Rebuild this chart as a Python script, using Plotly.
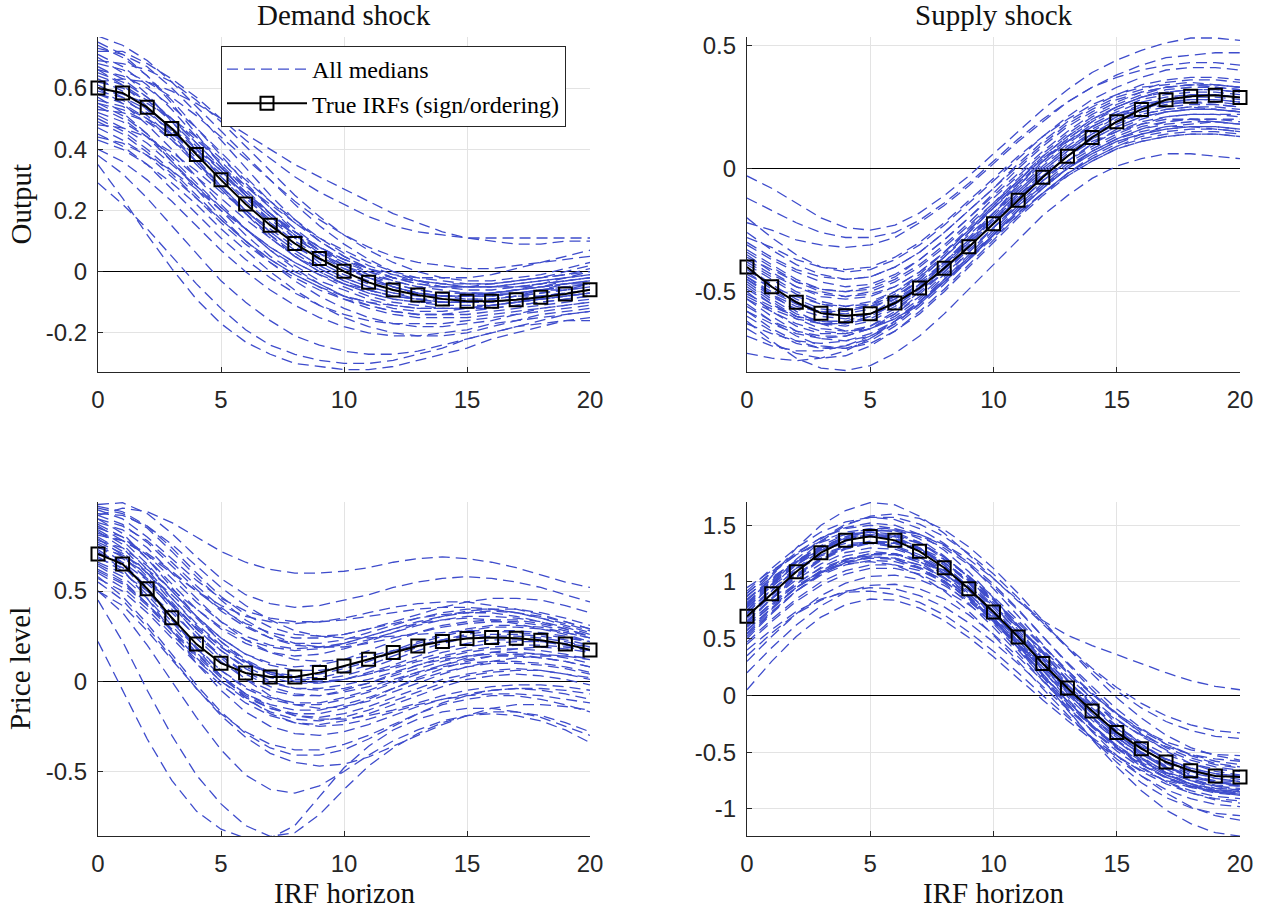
import plotly.graph_objects as go

horizons = [0, 1, 2, 3, 4, 5, 6, 7, 8, 9, 10, 11, 12, 13, 14, 15, 16, 17, 18, 19, 20]

col_titles = ["Demand shock", "Supply shock"]
row_titles = ["Output", "Price level"]
x_title = "IRF horizon"

x_tickvals = [0, 5, 10, 15, 20]
x_ticktext = ["0", "5", "10", "15", "20"]

y_tick_output_demand = [-0.2, 0, 0.2, 0.4, 0.6]
y_text_output_demand = ["-0.2", "0", "0.2", "0.4", "0.6"]
y_tick_output_supply = [-0.5, 0, 0.5]
y_text_output_supply = ["-0.5", "0", "0.5"]
y_tick_price_demand = [-0.5, 0, 0.5]
y_text_price_demand = ["-0.5", "0", "0.5"]
y_tick_price_supply = [-1, -0.5, 0, 0.5, 1, 1.5]
y_text_price_supply = ["-1", "-0.5", "0", "0.5", "1", "1.5"]

y_range_output_demand = [-0.328, 0.767]
y_range_output_supply = [-0.826, 0.534]
y_range_price_demand = [-0.858, 0.994]
y_range_price_supply = [-1.239, 1.705]

true_output_demand = [0.60, 0.584, 0.537, 0.468, 0.383, 0.30, 0.221, 0.152, 0.092, 0.043, 0.001,
                      -0.035, -0.060, -0.076, -0.089, -0.097, -0.097, -0.092, -0.084, -0.073, -0.059]
true_output_supply = [-0.40, -0.48, -0.543, -0.587, -0.598, -0.59, -0.546, -0.485, -0.405, -0.318, -0.224,
                      -0.129, -0.035, 0.05, 0.126, 0.19, 0.24, 0.279, 0.293, 0.298, 0.288]
true_price_demand = [0.706, 0.65, 0.513, 0.352, 0.206, 0.10, 0.046, 0.024, 0.024, 0.048, 0.085,
                     0.122, 0.159, 0.196, 0.22, 0.237, 0.243, 0.239, 0.228, 0.206, 0.174]
true_price_supply = [0.698, 0.897, 1.091, 1.258, 1.367, 1.402, 1.367, 1.27, 1.126, 0.941, 0.736,
                     0.516, 0.282, 0.065, -0.138, -0.326, -0.469, -0.587, -0.663, -0.710, -0.718]

medians_output_demand = [
    [0.77, 0.74, 0.69, 0.62, 0.54, 0.46, 0.38, 0.30, 0.22, 0.15, 0.09, 0.04, 0.00, -0.03, -0.05, -0.06, -0.06, -0.05, -0.04, -0.03, -0.02],
    [0.72, 0.72, 0.68, 0.63, 0.57, 0.50, 0.43, 0.37, 0.31, 0.26, 0.22, 0.18, 0.15, 0.13, 0.12, 0.11, 0.11, 0.11, 0.11, 0.11, 0.11],
    [0.62, 0.63, 0.62, 0.59, 0.55, 0.50, 0.45, 0.40, 0.35, 0.31, 0.27, 0.23, 0.19, 0.16, 0.13, 0.11, 0.10, 0.09, 0.09, 0.10, 0.10],
    [0.68, 0.66, 0.62, 0.57, 0.51, 0.44, 0.37, 0.30, 0.23, 0.17, 0.12, 0.08, 0.05, 0.03, 0.02, 0.01, 0.01, 0.02, 0.03, 0.04, 0.05],
    [0.65, 0.62, 0.57, 0.50, 0.42, 0.34, 0.26, 0.19, 0.12, 0.07, 0.03, 0.00, -0.02, -0.03, -0.04, -0.04, -0.04, -0.03, -0.02, -0.01, 0.00],
    [0.58, 0.55, 0.50, 0.43, 0.35, 0.27, 0.19, 0.12, 0.06, 0.01, -0.03, -0.06, -0.08, -0.09, -0.10, -0.10, -0.09, -0.08, -0.07, -0.06, -0.05],
    [0.55, 0.51, 0.45, 0.37, 0.29, 0.21, 0.14, 0.07, 0.02, -0.03, -0.06, -0.09, -0.11, -0.12, -0.12, -0.12, -0.11, -0.10, -0.09, -0.08, -0.07],
    [0.50, 0.46, 0.40, 0.33, 0.25, 0.17, 0.10, 0.04, -0.01, -0.05, -0.09, -0.11, -0.13, -0.14, -0.14, -0.14, -0.13, -0.12, -0.11, -0.10, -0.09],
    [0.70, 0.65, 0.58, 0.49, 0.40, 0.31, 0.23, 0.16, 0.10, 0.05, 0.01, -0.02, -0.05, -0.07, -0.08, -0.09, -0.09, -0.08, -0.07, -0.06, -0.04],
    [0.48, 0.47, 0.44, 0.39, 0.33, 0.26, 0.20, 0.14, 0.08, 0.04, 0.00, -0.03, -0.05, -0.07, -0.08, -0.08, -0.08, -0.07, -0.06, -0.05, -0.04],
    [0.45, 0.41, 0.35, 0.27, 0.19, 0.11, 0.04, -0.02, -0.07, -0.11, -0.14, -0.16, -0.17, -0.17, -0.17, -0.16, -0.15, -0.14, -0.13, -0.12, -0.11],
    [0.35, 0.24, 0.12, 0.01, -0.09, -0.17, -0.23, -0.27, -0.30, -0.31, -0.32, -0.32, -0.31, -0.29, -0.27, -0.25, -0.22, -0.20, -0.18, -0.16, -0.15],
    [0.29, 0.22, 0.14, 0.05, -0.04, -0.12, -0.19, -0.24, -0.27, -0.29, -0.30, -0.30, -0.29, -0.27, -0.25, -0.22, -0.20, -0.18, -0.16, -0.14, -0.13],
    [0.40, 0.36, 0.30, 0.23, 0.15, 0.07, 0.00, -0.06, -0.11, -0.15, -0.18, -0.20, -0.21, -0.21, -0.20, -0.19, -0.17, -0.16, -0.14, -0.13, -0.12],
    [0.62, 0.60, 0.56, 0.50, 0.43, 0.36, 0.28, 0.21, 0.14, 0.08, 0.03, -0.01, -0.04, -0.06, -0.07, -0.07, -0.07, -0.06, -0.04, -0.02, 0.00],
    [0.60, 0.55, 0.48, 0.40, 0.31, 0.22, 0.14, 0.07, 0.01, -0.04, -0.08, -0.11, -0.13, -0.14, -0.14, -0.13, -0.12, -0.11, -0.10, -0.09, -0.08],
    [0.53, 0.52, 0.49, 0.45, 0.40, 0.34, 0.28, 0.22, 0.16, 0.11, 0.07, 0.03, 0.00, -0.02, -0.03, -0.04, -0.04, -0.03, -0.02, 0.00, 0.02],
    [0.66, 0.64, 0.60, 0.54, 0.47, 0.39, 0.31, 0.23, 0.16, 0.10, 0.05, 0.01, -0.02, -0.04, -0.05, -0.05, -0.04, -0.03, -0.02, -0.01, 0.01],
    [0.57, 0.52, 0.45, 0.36, 0.27, 0.18, 0.10, 0.03, -0.03, -0.08, -0.12, -0.15, -0.17, -0.18, -0.18, -0.17, -0.16, -0.14, -0.12, -0.11, -0.10],
    [0.74, 0.70, 0.64, 0.56, 0.47, 0.38, 0.29, 0.21, 0.13, 0.07, 0.02, -0.02, -0.05, -0.07, -0.08, -0.08, -0.08, -0.07, -0.06, -0.04, -0.03],
    [0.52, 0.49, 0.44, 0.38, 0.31, 0.24, 0.17, 0.11, 0.05, 0.01, -0.03, -0.06, -0.08, -0.09, -0.10, -0.10, -0.10, -0.09, -0.08, -0.07, -0.06],
    [0.43, 0.40, 0.35, 0.29, 0.22, 0.14, 0.07, 0.00, -0.06, -0.11, -0.15, -0.18, -0.20, -0.21, -0.21, -0.20, -0.18, -0.16, -0.15, -0.14, -0.13],
    [0.64, 0.61, 0.56, 0.49, 0.41, 0.33, 0.25, 0.18, 0.12, 0.07, 0.04, 0.01, -0.01, -0.02, -0.02, -0.02, -0.01, 0.01, 0.03, 0.05, 0.07],
    [0.38, 0.32, 0.24, 0.15, 0.06, -0.03, -0.10, -0.16, -0.21, -0.24, -0.26, -0.27, -0.27, -0.26, -0.24, -0.22, -0.20, -0.18, -0.17, -0.16, -0.16],
    [0.56, 0.54, 0.50, 0.45, 0.39, 0.32, 0.25, 0.19, 0.13, 0.08, 0.04, 0.01, -0.02, -0.03, -0.04, -0.05, -0.05, -0.05, -0.05, -0.04, -0.04],
    [0.69, 0.68, 0.66, 0.62, 0.56, 0.49, 0.41, 0.33, 0.25, 0.18, 0.12, 0.07, 0.03, 0.00, -0.02, -0.03, -0.03, -0.02, -0.01, 0.01, 0.03],
    [0.47, 0.43, 0.38, 0.31, 0.24, 0.17, 0.10, 0.04, -0.01, -0.05, -0.08, -0.10, -0.11, -0.12, -0.12, -0.12, -0.11, -0.10, -0.09, -0.08, -0.07],
    [0.61, 0.57, 0.51, 0.44, 0.36, 0.28, 0.20, 0.13, 0.07, 0.02, -0.02, -0.05, -0.07, -0.09, -0.10, -0.10, -0.10, -0.09, -0.09, -0.08, -0.07],
    [0.71, 0.67, 0.61, 0.53, 0.44, 0.35, 0.27, 0.19, 0.12, 0.06, 0.02, -0.02, -0.04, -0.06, -0.07, -0.07, -0.07, -0.06, -0.05, -0.04, -0.03],
    [0.63, 0.59, 0.53, 0.45, 0.36, 0.27, 0.19, 0.11, 0.05, 0.00, -0.04, -0.07, -0.09, -0.10, -0.11, -0.11, -0.11, -0.10, -0.09, -0.08, -0.07],
    [0.59, 0.57, 0.53, 0.47, 0.40, 0.33, 0.25, 0.18, 0.11, 0.06, 0.01, -0.02, -0.05, -0.07, -0.08, -0.08, -0.08, -0.07, -0.06, -0.05, -0.04],
    [0.54, 0.50, 0.44, 0.36, 0.28, 0.20, 0.12, 0.05, 0.00, -0.04, -0.08, -0.10, -0.12, -0.13, -0.13, -0.12, -0.11, -0.10, -0.08, -0.07, -0.06],
    [0.67, 0.63, 0.57, 0.50, 0.42, 0.34, 0.26, 0.19, 0.13, 0.08, 0.04, 0.00, -0.03, -0.05, -0.06, -0.07, -0.07, -0.07, -0.06, -0.06, -0.05],
    [0.49, 0.45, 0.39, 0.32, 0.24, 0.16, 0.09, 0.03, -0.02, -0.06, -0.09, -0.12, -0.14, -0.15, -0.15, -0.15, -0.14, -0.13, -0.12, -0.11, -0.10],
    [0.73, 0.71, 0.67, 0.60, 0.52, 0.43, 0.34, 0.25, 0.17, 0.10, 0.05, 0.01, -0.02, -0.04, -0.05, -0.05, -0.05, -0.04, -0.03, -0.02, -0.01],
    [0.58, 0.56, 0.52, 0.46, 0.39, 0.31, 0.24, 0.17, 0.11, 0.06, 0.02, -0.01, -0.03, -0.05, -0.05, -0.05, -0.05, -0.04, -0.03, -0.02, -0.01],
    [0.51, 0.47, 0.42, 0.35, 0.28, 0.21, 0.14, 0.08, 0.03, -0.01, -0.04, -0.06, -0.08, -0.09, -0.09, -0.09, -0.09, -0.08, -0.08, -0.07, -0.06],
    [0.66, 0.61, 0.54, 0.46, 0.37, 0.28, 0.19, 0.12, 0.05, 0.00, -0.04, -0.07, -0.09, -0.10, -0.10, -0.10, -0.09, -0.08, -0.06, -0.05, -0.04],
    [0.44, 0.42, 0.38, 0.33, 0.27, 0.20, 0.14, 0.08, 0.03, -0.01, -0.05, -0.08, -0.10, -0.11, -0.12, -0.12, -0.12, -0.11, -0.10, -0.09, -0.08],
    [0.60, 0.58, 0.55, 0.50, 0.44, 0.37, 0.30, 0.23, 0.17, 0.11, 0.06, 0.02, -0.01, -0.03, -0.04, -0.05, -0.05, -0.05, -0.04, -0.03, -0.02],
    [0.75, 0.71, 0.64, 0.55, 0.45, 0.35, 0.25, 0.16, 0.09, 0.03, -0.01, -0.04, -0.06, -0.07, -0.08, -0.08, -0.07, -0.06, -0.05, -0.04, -0.03],
    [0.55, 0.53, 0.49, 0.43, 0.36, 0.28, 0.20, 0.13, 0.07, 0.02, -0.02, -0.05, -0.07, -0.08, -0.08, -0.08, -0.07, -0.06, -0.05, -0.03, -0.02],
]

medians_output_supply = [
    [-0.03, -0.08, -0.14, -0.20, -0.24, -0.25, -0.23, -0.18, -0.11, -0.03, 0.06, 0.15, 0.24, 0.32, 0.39, 0.44, 0.48, 0.51, 0.53, 0.53, 0.52],
    [-0.22, -0.25, -0.29, -0.31, -0.32, -0.31, -0.28, -0.22, -0.15, -0.07, 0.02, 0.11, 0.19, 0.27, 0.33, 0.38, 0.42, 0.45, 0.46, 0.47, 0.47],
    [-0.30, -0.36, -0.41, -0.44, -0.45, -0.44, -0.40, -0.34, -0.26, -0.17, -0.08, 0.02, 0.11, 0.19, 0.25, 0.30, 0.34, 0.36, 0.37, 0.37, 0.36],
    [-0.35, -0.42, -0.48, -0.52, -0.53, -0.52, -0.48, -0.42, -0.34, -0.25, -0.16, -0.07, 0.02, 0.10, 0.17, 0.22, 0.26, 0.28, 0.29, 0.29, 0.28],
    [-0.45, -0.52, -0.57, -0.60, -0.61, -0.59, -0.54, -0.47, -0.38, -0.29, -0.19, -0.09, 0.00, 0.08, 0.14, 0.19, 0.22, 0.24, 0.25, 0.24, 0.23],
    [-0.50, -0.58, -0.64, -0.67, -0.67, -0.64, -0.58, -0.50, -0.41, -0.31, -0.21, -0.11, -0.03, 0.05, 0.11, 0.15, 0.18, 0.20, 0.20, 0.19, 0.18],
    [-0.55, -0.62, -0.68, -0.72, -0.73, -0.71, -0.66, -0.59, -0.50, -0.40, -0.30, -0.20, -0.11, -0.03, 0.03, 0.08, 0.11, 0.13, 0.14, 0.14, 0.13],
    [-0.62, -0.70, -0.77, -0.81, -0.82, -0.80, -0.75, -0.68, -0.59, -0.49, -0.39, -0.29, -0.19, -0.11, -0.04, 0.01, 0.04, 0.06, 0.06, 0.05, 0.04],
    [-0.75, -0.77, -0.78, -0.77, -0.74, -0.69, -0.62, -0.54, -0.45, -0.36, -0.27, -0.18, -0.10, -0.03, 0.03, 0.08, 0.11, 0.13, 0.14, 0.14, 0.13],
    [-0.38, -0.44, -0.50, -0.54, -0.56, -0.55, -0.52, -0.46, -0.38, -0.29, -0.20, -0.10, -0.01, 0.07, 0.14, 0.20, 0.24, 0.27, 0.28, 0.28, 0.27],
    [-0.28, -0.32, -0.37, -0.40, -0.41, -0.40, -0.36, -0.30, -0.22, -0.13, -0.04, 0.05, 0.13, 0.20, 0.26, 0.30, 0.33, 0.34, 0.35, 0.34, 0.33],
    [-0.42, -0.49, -0.55, -0.58, -0.59, -0.57, -0.52, -0.45, -0.36, -0.26, -0.16, -0.06, 0.03, 0.11, 0.17, 0.22, 0.25, 0.27, 0.27, 0.26, 0.25],
    [-0.47, -0.54, -0.60, -0.63, -0.64, -0.62, -0.57, -0.50, -0.42, -0.33, -0.24, -0.15, -0.07, 0.00, 0.06, 0.11, 0.14, 0.16, 0.17, 0.17, 0.16],
    [-0.33, -0.39, -0.45, -0.49, -0.50, -0.49, -0.45, -0.39, -0.31, -0.22, -0.12, -0.03, 0.06, 0.14, 0.21, 0.26, 0.30, 0.33, 0.34, 0.34, 0.33],
    [-0.58, -0.65, -0.70, -0.73, -0.72, -0.69, -0.63, -0.55, -0.46, -0.36, -0.26, -0.16, -0.07, 0.01, 0.07, 0.12, 0.15, 0.17, 0.17, 0.16, 0.15],
    [-0.20, -0.28, -0.35, -0.40, -0.42, -0.41, -0.37, -0.31, -0.23, -0.14, -0.05, 0.04, 0.13, 0.21, 0.28, 0.33, 0.37, 0.40, 0.41, 0.41, 0.40],
    [-0.52, -0.57, -0.61, -0.63, -0.63, -0.60, -0.55, -0.48, -0.39, -0.30, -0.21, -0.12, -0.04, 0.03, 0.09, 0.14, 0.18, 0.21, 0.22, 0.22, 0.22],
    [-0.44, -0.51, -0.58, -0.63, -0.66, -0.65, -0.61, -0.55, -0.46, -0.37, -0.27, -0.17, -0.08, 0.00, 0.07, 0.12, 0.16, 0.19, 0.20, 0.20, 0.20],
    [-0.36, -0.41, -0.46, -0.49, -0.50, -0.48, -0.44, -0.37, -0.29, -0.20, -0.11, -0.02, 0.07, 0.15, 0.22, 0.27, 0.31, 0.33, 0.34, 0.34, 0.33],
    [-0.65, -0.71, -0.75, -0.77, -0.76, -0.72, -0.66, -0.58, -0.49, -0.39, -0.29, -0.19, -0.10, -0.02, 0.04, 0.09, 0.12, 0.14, 0.15, 0.15, 0.14],
    [-0.40, -0.47, -0.53, -0.57, -0.58, -0.56, -0.51, -0.44, -0.35, -0.25, -0.15, -0.05, 0.05, 0.13, 0.20, 0.25, 0.29, 0.31, 0.32, 0.32, 0.31],
    [-0.48, -0.55, -0.61, -0.65, -0.66, -0.64, -0.59, -0.52, -0.43, -0.34, -0.24, -0.14, -0.05, 0.03, 0.10, 0.16, 0.20, 0.23, 0.24, 0.24, 0.23],
    [-0.12, -0.17, -0.22, -0.26, -0.28, -0.28, -0.26, -0.21, -0.14, -0.06, 0.03, 0.12, 0.20, 0.27, 0.33, 0.37, 0.40, 0.42, 0.43, 0.43, 0.42],
    [-0.53, -0.60, -0.66, -0.69, -0.70, -0.68, -0.63, -0.55, -0.45, -0.35, -0.25, -0.15, -0.06, 0.02, 0.08, 0.13, 0.17, 0.19, 0.20, 0.20, 0.19],
    [-0.43, -0.48, -0.52, -0.55, -0.56, -0.54, -0.50, -0.44, -0.36, -0.27, -0.18, -0.09, 0.00, 0.08, 0.15, 0.21, 0.25, 0.28, 0.30, 0.30, 0.29],
    [-0.68, -0.72, -0.74, -0.74, -0.72, -0.68, -0.62, -0.54, -0.45, -0.36, -0.27, -0.18, -0.10, -0.02, 0.04, 0.09, 0.13, 0.15, 0.16, 0.16, 0.15],
    [-0.26, -0.33, -0.39, -0.43, -0.45, -0.44, -0.40, -0.34, -0.26, -0.17, -0.08, 0.01, 0.10, 0.18, 0.24, 0.29, 0.32, 0.35, 0.36, 0.36, 0.35],
    [-0.58, -0.63, -0.67, -0.69, -0.68, -0.65, -0.59, -0.51, -0.42, -0.32, -0.22, -0.12, -0.03, 0.05, 0.12, 0.17, 0.21, 0.23, 0.24, 0.24, 0.23],
    [-0.46, -0.53, -0.59, -0.62, -0.63, -0.61, -0.56, -0.49, -0.40, -0.30, -0.20, -0.10, -0.01, 0.07, 0.14, 0.19, 0.23, 0.25, 0.26, 0.26, 0.25],
    [-0.39, -0.45, -0.51, -0.55, -0.57, -0.56, -0.53, -0.47, -0.39, -0.30, -0.21, -0.11, -0.02, 0.06, 0.13, 0.18, 0.22, 0.24, 0.25, 0.25, 0.24],
    [-0.51, -0.56, -0.60, -0.62, -0.62, -0.59, -0.53, -0.45, -0.36, -0.26, -0.16, -0.06, 0.03, 0.11, 0.18, 0.23, 0.27, 0.29, 0.30, 0.30, 0.29],
    [-0.34, -0.40, -0.46, -0.50, -0.52, -0.51, -0.48, -0.42, -0.34, -0.25, -0.15, -0.05, 0.04, 0.12, 0.19, 0.24, 0.28, 0.30, 0.31, 0.31, 0.30],
    [-0.56, -0.62, -0.66, -0.68, -0.68, -0.65, -0.60, -0.53, -0.44, -0.34, -0.24, -0.14, -0.05, 0.03, 0.10, 0.15, 0.19, 0.21, 0.22, 0.22, 0.21],
    [-0.44, -0.50, -0.55, -0.59, -0.60, -0.59, -0.55, -0.49, -0.41, -0.32, -0.22, -0.12, -0.03, 0.05, 0.12, 0.17, 0.21, 0.23, 0.24, 0.24, 0.23],
    [-0.41, -0.48, -0.54, -0.58, -0.60, -0.59, -0.55, -0.48, -0.39, -0.29, -0.18, -0.07, 0.03, 0.12, 0.19, 0.25, 0.29, 0.32, 0.33, 0.33, 0.32],
    [-0.49, -0.55, -0.60, -0.63, -0.63, -0.60, -0.55, -0.47, -0.38, -0.28, -0.18, -0.08, 0.01, 0.09, 0.16, 0.21, 0.24, 0.26, 0.27, 0.27, 0.26],
    [-0.31, -0.37, -0.42, -0.46, -0.48, -0.47, -0.43, -0.37, -0.29, -0.20, -0.10, 0.00, 0.09, 0.17, 0.23, 0.28, 0.31, 0.33, 0.34, 0.33, 0.32],
    [-0.60, -0.66, -0.71, -0.73, -0.73, -0.70, -0.64, -0.56, -0.47, -0.37, -0.27, -0.17, -0.08, 0.00, 0.06, 0.11, 0.14, 0.16, 0.17, 0.17, 0.16],
    [-0.37, -0.43, -0.48, -0.51, -0.52, -0.50, -0.46, -0.40, -0.32, -0.23, -0.14, -0.05, 0.04, 0.11, 0.17, 0.22, 0.25, 0.27, 0.28, 0.28, 0.27],
    [-0.53, -0.58, -0.63, -0.66, -0.67, -0.65, -0.61, -0.54, -0.46, -0.37, -0.28, -0.19, -0.10, -0.02, 0.05, 0.10, 0.14, 0.17, 0.18, 0.19, 0.18],
    [-0.45, -0.51, -0.56, -0.58, -0.58, -0.55, -0.50, -0.43, -0.34, -0.24, -0.14, -0.04, 0.05, 0.13, 0.20, 0.25, 0.29, 0.31, 0.32, 0.32, 0.31],
    [-0.63, -0.67, -0.70, -0.71, -0.70, -0.67, -0.62, -0.55, -0.46, -0.37, -0.27, -0.17, -0.08, 0.00, 0.07, 0.12, 0.16, 0.18, 0.19, 0.19, 0.18],
]

medians_price_demand = [
    [0.92, 0.96, 0.94, 0.88, 0.80, 0.72, 0.66, 0.62, 0.60, 0.60, 0.61, 0.63, 0.66, 0.68, 0.69, 0.68, 0.66, 0.63, 0.59, 0.55, 0.52],
    [0.98, 0.99, 0.93, 0.82, 0.69, 0.57, 0.48, 0.43, 0.41, 0.42, 0.45, 0.48, 0.52, 0.55, 0.57, 0.58, 0.57, 0.55, 0.52, 0.48, 0.44],
    [0.22, -0.05, -0.32, -0.55, -0.72, -0.82, -0.87, -0.87, -0.80, -0.64, -0.48, -0.36, -0.27, -0.21, -0.17, -0.15, -0.15, -0.17, -0.20, -0.25, -0.30],
    [0.45, 0.22, -0.05, -0.30, -0.52, -0.68, -0.80, -0.86, -0.84, -0.74, -0.60, -0.47, -0.37, -0.29, -0.23, -0.19, -0.17, -0.17, -0.19, -0.23, -0.28],
    [0.80, 0.72, 0.58, 0.42, 0.27, 0.14, 0.04, -0.03, -0.07, -0.08, -0.06, -0.03, 0.01, 0.05, 0.08, 0.10, 0.11, 0.11, 0.10, 0.08, 0.05],
    [0.88, 0.84, 0.74, 0.60, 0.46, 0.33, 0.23, 0.16, 0.12, 0.11, 0.12, 0.14, 0.17, 0.20, 0.23, 0.25, 0.26, 0.26, 0.25, 0.23, 0.20],
    [0.65, 0.58, 0.46, 0.31, 0.16, 0.03, -0.07, -0.13, -0.16, -0.16, -0.13, -0.09, -0.04, 0.01, 0.05, 0.08, 0.10, 0.10, 0.09, 0.07, 0.04],
    [0.75, 0.66, 0.52, 0.35, 0.18, 0.03, -0.09, -0.18, -0.23, -0.25, -0.24, -0.21, -0.17, -0.13, -0.10, -0.08, -0.07, -0.07, -0.08, -0.10, -0.12],
    [0.95, 0.90, 0.80, 0.68, 0.56, 0.46, 0.39, 0.35, 0.33, 0.33, 0.34, 0.36, 0.38, 0.40, 0.41, 0.41, 0.40, 0.38, 0.35, 0.32, 0.28],
    [0.70, 0.68, 0.60, 0.48, 0.35, 0.22, 0.12, 0.05, 0.01, 0.00, 0.01, 0.04, 0.07, 0.11, 0.14, 0.17, 0.19, 0.20, 0.20, 0.19, 0.17],
    [0.58, 0.47, 0.32, 0.15, -0.02, -0.17, -0.29, -0.37, -0.41, -0.41, -0.38, -0.32, -0.25, -0.18, -0.12, -0.08, -0.05, -0.04, -0.04, -0.05, -0.07],
    [0.85, 0.80, 0.70, 0.57, 0.44, 0.33, 0.25, 0.20, 0.18, 0.19, 0.21, 0.25, 0.29, 0.33, 0.36, 0.38, 0.39, 0.38, 0.36, 0.33, 0.29],
    [0.62, 0.55, 0.43, 0.29, 0.15, 0.03, -0.07, -0.14, -0.19, -0.21, -0.21, -0.19, -0.16, -0.12, -0.08, -0.05, -0.03, -0.02, -0.02, -0.03, -0.05],
    [0.78, 0.74, 0.64, 0.50, 0.36, 0.24, 0.15, 0.10, 0.08, 0.09, 0.12, 0.17, 0.22, 0.27, 0.31, 0.33, 0.34, 0.34, 0.32, 0.29, 0.25],
    [0.55, 0.45, 0.30, 0.13, -0.04, -0.19, -0.31, -0.40, -0.45, -0.47, -0.46, -0.42, -0.36, -0.30, -0.24, -0.19, -0.15, -0.13, -0.13, -0.14, -0.16],
    [0.90, 0.82, 0.68, 0.52, 0.36, 0.22, 0.11, 0.04, 0.00, -0.01, 0.01, 0.04, 0.08, 0.12, 0.16, 0.19, 0.21, 0.22, 0.22, 0.21, 0.19],
    [0.72, 0.62, 0.46, 0.28, 0.10, -0.05, -0.17, -0.25, -0.29, -0.30, -0.28, -0.24, -0.19, -0.14, -0.10, -0.07, -0.05, -0.04, -0.05, -0.07, -0.10],
    [0.82, 0.78, 0.70, 0.60, 0.50, 0.42, 0.36, 0.33, 0.32, 0.33, 0.35, 0.38, 0.41, 0.43, 0.44, 0.44, 0.42, 0.40, 0.37, 0.33, 0.29],
    [0.68, 0.63, 0.54, 0.42, 0.30, 0.19, 0.10, 0.04, 0.01, 0.01, 0.03, 0.07, 0.12, 0.17, 0.21, 0.24, 0.25, 0.25, 0.24, 0.22, 0.19],
    [0.60, 0.52, 0.40, 0.26, 0.12, 0.00, -0.09, -0.15, -0.18, -0.18, -0.15, -0.10, -0.04, 0.02, 0.07, 0.11, 0.14, 0.15, 0.15, 0.14, 0.12],
    [0.93, 0.92, 0.86, 0.76, 0.64, 0.52, 0.42, 0.34, 0.28, 0.25, 0.24, 0.24, 0.25, 0.26, 0.27, 0.28, 0.28, 0.27, 0.26, 0.24, 0.22],
    [0.76, 0.69, 0.57, 0.42, 0.27, 0.13, 0.01, -0.08, -0.13, -0.15, -0.14, -0.11, -0.06, -0.01, 0.04, 0.08, 0.11, 0.13, 0.14, 0.14, 0.13],
    [0.87, 0.80, 0.68, 0.54, 0.40, 0.29, 0.21, 0.16, 0.14, 0.15, 0.18, 0.22, 0.27, 0.32, 0.36, 0.39, 0.40, 0.40, 0.38, 0.35, 0.31],
    [0.50, 0.42, 0.28, 0.12, -0.04, -0.18, -0.28, -0.35, -0.38, -0.38, -0.35, -0.30, -0.24, -0.18, -0.13, -0.10, -0.08, -0.08, -0.10, -0.13, -0.17],
    [0.66, 0.60, 0.50, 0.38, 0.25, 0.14, 0.05, -0.01, -0.04, -0.04, -0.02, 0.01, 0.05, 0.09, 0.12, 0.14, 0.15, 0.15, 0.13, 0.11, 0.08],
    [0.84, 0.76, 0.62, 0.46, 0.31, 0.19, 0.10, 0.05, 0.03, 0.04, 0.07, 0.11, 0.16, 0.21, 0.25, 0.28, 0.30, 0.30, 0.29, 0.27, 0.24],
    [0.97, 0.94, 0.86, 0.74, 0.60, 0.47, 0.37, 0.30, 0.26, 0.25, 0.26, 0.29, 0.33, 0.37, 0.41, 0.44, 0.46, 0.46, 0.45, 0.42, 0.38],
    [0.73, 0.64, 0.50, 0.34, 0.19, 0.06, -0.04, -0.10, -0.13, -0.13, -0.10, -0.06, -0.01, 0.04, 0.09, 0.13, 0.16, 0.18, 0.19, 0.18, 0.16],
    [0.50, 0.38, 0.20, 0.00, -0.20, -0.38, -0.52, -0.60, -0.62, -0.58, -0.50, -0.41, -0.33, -0.27, -0.22, -0.19, -0.18, -0.19, -0.22, -0.27, -0.34],
    [0.83, 0.74, 0.60, 0.44, 0.29, 0.17, 0.08, 0.02, -0.01, -0.01, 0.01, 0.05, 0.09, 0.14, 0.18, 0.21, 0.23, 0.23, 0.22, 0.20, 0.17],
    [0.77, 0.71, 0.60, 0.46, 0.32, 0.20, 0.11, 0.05, 0.02, 0.02, 0.05, 0.09, 0.14, 0.19, 0.23, 0.26, 0.28, 0.28, 0.27, 0.25, 0.22],
    [0.69, 0.61, 0.48, 0.33, 0.18, 0.06, -0.03, -0.09, -0.12, -0.12, -0.09, -0.05, 0.00, 0.05, 0.09, 0.12, 0.14, 0.14, 0.13, 0.11, 0.08],
    [0.90, 0.86, 0.78, 0.66, 0.53, 0.41, 0.31, 0.24, 0.20, 0.19, 0.20, 0.23, 0.27, 0.31, 0.34, 0.36, 0.36, 0.35, 0.33, 0.30, 0.26],
    [0.64, 0.56, 0.43, 0.28, 0.13, 0.00, -0.10, -0.17, -0.21, -0.22, -0.20, -0.16, -0.11, -0.06, -0.01, 0.03, 0.05, 0.06, 0.06, 0.04, 0.02],
    [0.86, 0.78, 0.65, 0.50, 0.36, 0.24, 0.15, 0.09, 0.06, 0.06, 0.08, 0.12, 0.17, 0.22, 0.26, 0.29, 0.31, 0.31, 0.30, 0.27, 0.24],
    [0.74, 0.70, 0.62, 0.51, 0.40, 0.30, 0.23, 0.19, 0.17, 0.18, 0.21, 0.25, 0.29, 0.32, 0.34, 0.35, 0.34, 0.32, 0.29, 0.26, 0.22],
    [0.79, 0.70, 0.56, 0.40, 0.24, 0.11, 0.01, -0.05, -0.08, -0.08, -0.05, -0.01, 0.04, 0.09, 0.13, 0.16, 0.18, 0.18, 0.17, 0.15, 0.12],
    [0.92, 0.87, 0.77, 0.64, 0.51, 0.39, 0.30, 0.24, 0.21, 0.21, 0.23, 0.27, 0.31, 0.35, 0.38, 0.40, 0.40, 0.38, 0.35, 0.31, 0.27],
    [0.61, 0.54, 0.42, 0.28, 0.14, 0.02, -0.08, -0.15, -0.19, -0.20, -0.18, -0.14, -0.09, -0.04, 0.01, 0.04, 0.06, 0.07, 0.06, 0.04, 0.01],
    [0.96, 0.93, 0.85, 0.72, 0.58, 0.45, 0.34, 0.26, 0.21, 0.19, 0.19, 0.21, 0.24, 0.27, 0.30, 0.32, 0.33, 0.33, 0.31, 0.28, 0.25],
    [0.71, 0.66, 0.56, 0.43, 0.29, 0.17, 0.07, 0.00, -0.04, -0.05, -0.04, -0.01, 0.03, 0.07, 0.11, 0.14, 0.16, 0.16, 0.15, 0.13, 0.10],
    [0.81, 0.78, 0.71, 0.61, 0.50, 0.40, 0.32, 0.27, 0.24, 0.24, 0.26, 0.29, 0.32, 0.35, 0.37, 0.38, 0.38, 0.36, 0.33, 0.29, 0.25],
    [0.57, 0.50, 0.38, 0.24, 0.10, -0.02, -0.12, -0.19, -0.23, -0.24, -0.22, -0.18, -0.13, -0.08, -0.03, 0.01, 0.03, 0.04, 0.03, 0.01, -0.02],
]

medians_price_supply = [
    [0.80, 1.05, 1.30, 1.50, 1.63, 1.70, 1.68, 1.58, 1.43, 1.24, 1.03, 0.83, 0.66, 0.53, 0.44, 0.36, 0.28, 0.20, 0.13, 0.08, 0.05],
    [0.75, 0.98, 1.20, 1.38, 1.51, 1.57, 1.57, 1.51, 1.40, 1.25, 1.07, 0.86, 0.64, 0.43, 0.24, 0.07, -0.07, -0.18, -0.26, -0.31, -0.33],
    [0.05, 0.30, 0.52, 0.69, 0.80, 0.85, 0.84, 0.77, 0.66, 0.51, 0.34, 0.15, -0.04, -0.22, -0.39, -0.54, -0.66, -0.75, -0.81, -0.84, -0.85],
    [0.40, 0.58, 0.74, 0.85, 0.91, 0.92, 0.89, 0.82, 0.71, 0.56, 0.39, 0.20, 0.00, -0.19, -0.37, -0.53, -0.67, -0.78, -0.86, -0.91, -0.93],
    [0.60, 0.80, 0.98, 1.13, 1.23, 1.27, 1.25, 1.17, 1.04, 0.86, 0.65, 0.42, 0.18, -0.05, -0.26, -0.45, -0.60, -0.72, -0.80, -0.85, -0.87],
    [0.85, 1.03, 1.19, 1.31, 1.39, 1.42, 1.39, 1.30, 1.15, 0.95, 0.71, 0.45, 0.18, -0.08, -0.32, -0.53, -0.71, -0.86, -0.98, -1.06, -1.10],
    [0.90, 1.08, 1.24, 1.36, 1.44, 1.47, 1.44, 1.35, 1.20, 0.99, 0.74, 0.46, 0.17, -0.12, -0.39, -0.63, -0.84, -1.01, -1.13, -1.21, -1.24],
    [0.65, 0.86, 1.05, 1.20, 1.30, 1.35, 1.34, 1.28, 1.17, 1.02, 0.84, 0.64, 0.43, 0.22, 0.02, -0.16, -0.31, -0.43, -0.52, -0.58, -0.61],
    [0.50, 0.72, 0.92, 1.08, 1.19, 1.24, 1.24, 1.18, 1.07, 0.92, 0.74, 0.54, 0.33, 0.13, -0.06, -0.22, -0.35, -0.45, -0.52, -0.56, -0.58],
    [0.75, 0.93, 1.10, 1.23, 1.31, 1.34, 1.31, 1.22, 1.07, 0.88, 0.66, 0.42, 0.18, -0.05, -0.26, -0.44, -0.59, -0.70, -0.78, -0.82, -0.83],
    [0.55, 0.76, 0.95, 1.10, 1.20, 1.25, 1.25, 1.20, 1.10, 0.96, 0.79, 0.60, 0.40, 0.20, 0.01, -0.16, -0.30, -0.41, -0.48, -0.52, -0.53],
    [0.30, 0.52, 0.72, 0.88, 0.99, 1.05, 1.06, 1.02, 0.93, 0.80, 0.64, 0.45, 0.25, 0.05, -0.14, -0.31, -0.45, -0.56, -0.64, -0.69, -0.71],
    [0.82, 1.01, 1.18, 1.32, 1.42, 1.47, 1.47, 1.42, 1.32, 1.17, 0.98, 0.76, 0.52, 0.28, 0.05, -0.16, -0.34, -0.49, -0.60, -0.67, -0.70],
    [0.45, 0.65, 0.83, 0.97, 1.07, 1.12, 1.12, 1.07, 0.97, 0.83, 0.66, 0.46, 0.25, 0.04, -0.16, -0.34, -0.50, -0.63, -0.73, -0.80, -0.84],
    [0.70, 0.92, 1.12, 1.28, 1.39, 1.45, 1.46, 1.42, 1.33, 1.20, 1.03, 0.84, 0.63, 0.42, 0.22, 0.04, -0.11, -0.23, -0.31, -0.36, -0.38],
    [0.62, 0.82, 0.99, 1.12, 1.20, 1.23, 1.20, 1.12, 0.99, 0.81, 0.60, 0.37, 0.13, -0.10, -0.31, -0.49, -0.64, -0.76, -0.84, -0.89, -0.91],
    [0.88, 1.04, 1.18, 1.28, 1.34, 1.35, 1.31, 1.22, 1.08, 0.90, 0.68, 0.44, 0.19, -0.05, -0.27, -0.46, -0.61, -0.73, -0.81, -0.86, -0.88],
    [0.35, 0.55, 0.72, 0.84, 0.92, 0.95, 0.94, 0.88, 0.78, 0.64, 0.47, 0.28, 0.08, -0.12, -0.31, -0.47, -0.61, -0.72, -0.80, -0.84, -0.86],
    [0.92, 1.12, 1.30, 1.44, 1.53, 1.57, 1.55, 1.47, 1.34, 1.16, 0.94, 0.70, 0.45, 0.20, -0.04, -0.25, -0.43, -0.57, -0.67, -0.73, -0.76],
    [0.58, 0.77, 0.95, 1.09, 1.18, 1.22, 1.21, 1.15, 1.04, 0.89, 0.71, 0.51, 0.30, 0.09, -0.10, -0.27, -0.41, -0.52, -0.60, -0.65, -0.67],
    [0.78, 0.96, 1.12, 1.24, 1.32, 1.35, 1.32, 1.24, 1.11, 0.93, 0.72, 0.49, 0.25, 0.02, -0.19, -0.37, -0.52, -0.63, -0.71, -0.75, -0.76],
    [0.20, 0.42, 0.62, 0.79, 0.91, 0.97, 0.98, 0.94, 0.85, 0.71, 0.54, 0.34, 0.13, -0.08, -0.27, -0.44, -0.58, -0.68, -0.75, -0.79, -0.80],
    [0.68, 0.88, 1.06, 1.20, 1.30, 1.35, 1.35, 1.30, 1.20, 1.05, 0.87, 0.66, 0.44, 0.22, 0.01, -0.17, -0.33, -0.46, -0.55, -0.61, -0.64],
    [0.95, 1.10, 1.24, 1.35, 1.42, 1.44, 1.40, 1.30, 1.14, 0.93, 0.69, 0.42, 0.14, -0.13, -0.38, -0.59, -0.77, -0.90, -0.99, -1.04, -1.06],
    [0.52, 0.73, 0.92, 1.07, 1.17, 1.22, 1.21, 1.15, 1.03, 0.87, 0.67, 0.45, 0.22, -0.01, -0.22, -0.40, -0.55, -0.67, -0.75, -0.80, -0.82],
    [0.72, 0.95, 1.17, 1.36, 1.50, 1.58, 1.60, 1.56, 1.46, 1.31, 1.12, 0.90, 0.66, 0.42, 0.19, -0.02, -0.20, -0.35, -0.46, -0.53, -0.57],
    [0.63, 0.81, 0.97, 1.09, 1.16, 1.18, 1.15, 1.06, 0.92, 0.74, 0.53, 0.30, 0.06, -0.17, -0.38, -0.56, -0.71, -0.83, -0.91, -0.96, -0.98],
    [0.80, 0.99, 1.16, 1.30, 1.40, 1.45, 1.45, 1.40, 1.30, 1.15, 0.96, 0.75, 0.52, 0.29, 0.08, -0.12, -0.29, -0.43, -0.53, -0.60, -0.63],
    [0.73, 0.93, 1.11, 1.26, 1.36, 1.41, 1.40, 1.34, 1.22, 1.05, 0.85, 0.62, 0.38, 0.14, -0.08, -0.27, -0.43, -0.56, -0.65, -0.71, -0.74],
    [0.66, 0.85, 1.02, 1.16, 1.26, 1.30, 1.29, 1.22, 1.10, 0.93, 0.73, 0.51, 0.28, 0.05, -0.16, -0.35, -0.50, -0.62, -0.71, -0.76, -0.78],
    [0.84, 1.02, 1.18, 1.31, 1.40, 1.44, 1.42, 1.35, 1.22, 1.04, 0.82, 0.58, 0.33, 0.08, -0.15, -0.36, -0.54, -0.68, -0.78, -0.84, -0.86],
    [0.57, 0.77, 0.95, 1.10, 1.20, 1.25, 1.25, 1.19, 1.08, 0.93, 0.74, 0.53, 0.31, 0.09, -0.11, -0.29, -0.44, -0.56, -0.64, -0.69, -0.71],
    [0.77, 0.97, 1.15, 1.29, 1.38, 1.42, 1.41, 1.34, 1.22, 1.05, 0.84, 0.61, 0.37, 0.13, -0.09, -0.29, -0.46, -0.60, -0.70, -0.77, -0.80],
    [0.61, 0.79, 0.95, 1.08, 1.17, 1.21, 1.20, 1.13, 1.01, 0.84, 0.63, 0.40, 0.16, -0.07, -0.28, -0.46, -0.61, -0.72, -0.80, -0.85, -0.87],
    [0.87, 1.07, 1.25, 1.39, 1.48, 1.52, 1.50, 1.42, 1.28, 1.09, 0.86, 0.61, 0.35, 0.10, -0.13, -0.33, -0.50, -0.63, -0.72, -0.77, -0.79],
    [0.47, 0.67, 0.85, 1.00, 1.10, 1.15, 1.15, 1.10, 1.00, 0.86, 0.68, 0.48, 0.27, 0.06, -0.14, -0.32, -0.47, -0.59, -0.68, -0.73, -0.76],
    [0.69, 0.89, 1.07, 1.21, 1.31, 1.36, 1.35, 1.29, 1.17, 1.00, 0.79, 0.56, 0.32, 0.08, -0.14, -0.34, -0.51, -0.65, -0.75, -0.82, -0.85],
    [0.79, 0.98, 1.15, 1.28, 1.37, 1.40, 1.38, 1.30, 1.17, 0.99, 0.77, 0.53, 0.28, 0.03, -0.20, -0.40, -0.57, -0.70, -0.79, -0.85, -0.88],
    [0.54, 0.74, 0.92, 1.06, 1.15, 1.19, 1.18, 1.12, 1.01, 0.85, 0.66, 0.45, 0.23, 0.01, -0.19, -0.37, -0.52, -0.64, -0.72, -0.77, -0.79],
    [0.90, 1.09, 1.26, 1.39, 1.47, 1.50, 1.47, 1.38, 1.23, 1.03, 0.80, 0.55, 0.29, 0.04, -0.19, -0.39, -0.56, -0.69, -0.78, -0.83, -0.85],
    [0.64, 0.85, 1.04, 1.19, 1.29, 1.34, 1.34, 1.28, 1.17, 1.01, 0.82, 0.61, 0.39, 0.17, -0.03, -0.21, -0.36, -0.48, -0.57, -0.63, -0.66],
    [0.81, 1.00, 1.17, 1.30, 1.38, 1.41, 1.38, 1.29, 1.15, 0.96, 0.73, 0.48, 0.22, -0.03, -0.26, -0.46, -0.63, -0.76, -0.86, -0.92, -0.95],
]

BLUE = "rgb(62,76,204)"
INK = "#262626"
SERIF = "Liberation Serif, Times New Roman, serif"
SANS = "Liberation Sans, Arial, sans-serif"

panels = [
    ("x", "y", medians_output_demand, true_output_demand),
    ("x2", "y2", medians_output_supply, true_output_supply),
    ("x3", "y3", medians_price_demand, true_price_demand),
    ("x4", "y4", medians_price_supply, true_price_supply),
]

fig = go.Figure()
first = True
for xa, ya, meds, true_irf in panels:
    for k, m in enumerate(meds):
        fig.add_trace(go.Scatter(
            x=horizons, y=m, xaxis=xa, yaxis=ya, mode="lines",
            line=dict(color=BLUE, width=1.3, dash="11px,6px"),
            name="All medians", legendgroup="med",
            showlegend=(first and k == 0), hoverinfo="skip",
        ))
    fig.add_trace(go.Scatter(
        x=horizons, y=true_irf, xaxis=xa, yaxis=ya, mode="lines+markers",
        line=dict(color="black", width=2),
        marker=dict(symbol="square-open", size=13, color="black", line=dict(width=2)),
        name="True IRFs (sign/ordering)", legendgroup="true",
        showlegend=first, cliponaxis=False,
    ))
    first = False

xl = [98 / 1267, 590 / 1267]
xr = [747 / 1267, 1240 / 1267]
yt = [1 - 372 / 909, 1 - 37 / 909]
yb = [1 - 836 / 909, 1 - 502 / 909]


def xax(domain, anchor):
    return dict(domain=domain, anchor=anchor, range=[0, 20], tickvals=x_tickvals, ticktext=x_ticktext,
                ticks="inside", ticklen=5, tickcolor=INK, tickwidth=1,
                showline=True, linecolor=INK, linewidth=1.2, mirror=False,
                showgrid=True, gridcolor="#e3e3e3", gridwidth=1, zeroline=False,
                tickfont=dict(family=SANS, size=24, color=INK), ticklabelstandoff=6,
                automargin=False)


def yax(domain, anchor, rng, tv, tt):
    return dict(domain=domain, anchor=anchor, range=rng, tickvals=tv, ticktext=tt,
                ticks="inside", ticklen=5, tickcolor=INK, tickwidth=1,
                showline=True, linecolor=INK, linewidth=1.2, mirror=False,
                showgrid=True, gridcolor="#e3e3e3", gridwidth=1,
                zeroline=True, zerolinecolor="black", zerolinewidth=1,
                tickfont=dict(family=SANS, size=24, color=INK), ticklabelstandoff=5,
                automargin=False)


fig.update_layout(
    width=1267, height=909,
    margin=dict(l=0, r=0, t=0, b=0, pad=0, autoexpand=False),
    paper_bgcolor="white", plot_bgcolor="white",
    xaxis=xax(xl, "y"), yaxis=yax(yt, "x", y_range_output_demand, y_tick_output_demand, y_text_output_demand),
    xaxis2=xax(xr, "y2"), yaxis2=yax(yt, "x2", y_range_output_supply, y_tick_output_supply, y_text_output_supply),
    xaxis3=xax(xl, "y3"), yaxis3=yax(yb, "x3", y_range_price_demand, y_tick_price_demand, y_text_price_demand),
    xaxis4=xax(xr, "y4"), yaxis4=yax(yb, "x4", y_range_price_supply, y_tick_price_supply, y_text_price_supply),
    legend=dict(x=221 / 1267, y=1 - 46 / 909, xanchor="left", yanchor="top",
                bgcolor="white", bordercolor=INK, borderwidth=1,
                font=dict(family=SERIF, size=24, color="#000000"),
                itemwidth=80, tracegroupgap=0),
    showlegend=True,
)

ann = []
for i, t in enumerate(col_titles):
    cx = (xl[0] + xl[1]) / 2 if i == 0 else (xr[0] + xr[1]) / 2
    ann.append(dict(text=t, x=cx, y=1 - 15 / 909, xref="paper", yref="paper", showarrow=False,
                    xanchor="center", yanchor="middle", font=dict(family=SERIF, size=29, color="#111111")))
    ann.append(dict(text=x_title, x=cx, y=1 - 893 / 909, xref="paper", yref="paper", showarrow=False,
                    xanchor="center", yanchor="middle", font=dict(family=SERIF, size=29, color="#111111")))
for j, t in enumerate(row_titles):
    cy = (yt[0] + yt[1]) / 2 if j == 0 else (yb[0] + yb[1]) / 2
    ann.append(dict(text=t, x=20 / 1267, y=cy, xref="paper", yref="paper", showarrow=False, textangle=-90,
                    xanchor="center", yanchor="middle", font=dict(family=SERIF, size=29, color="#111111")))
fig.update_layout(annotations=ann)

fig.write_html("out.html", config={"displayModeBar": False},
               post_script="document.body.style.margin='0';document.body.style.overflow='hidden';")
